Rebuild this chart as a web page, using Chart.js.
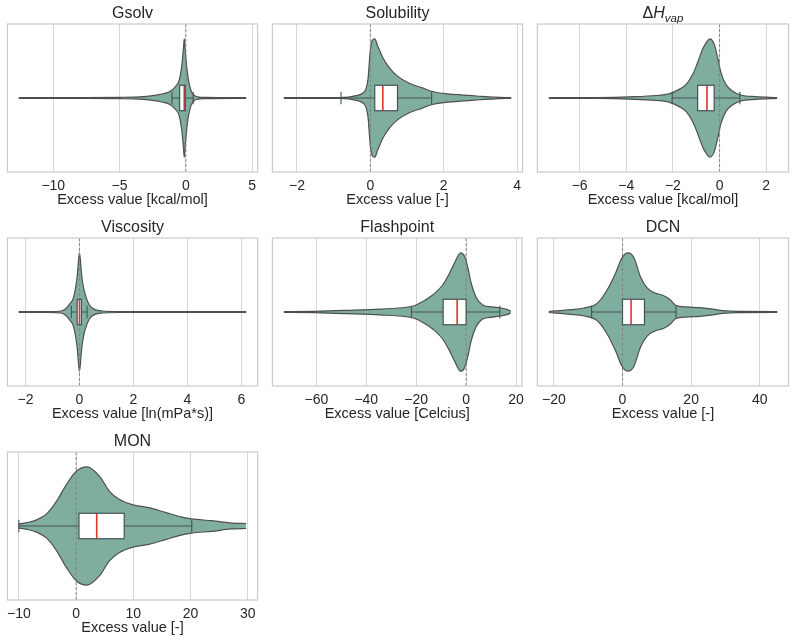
<!DOCTYPE html>
<html>
<head>
<meta charset="utf-8">
<script src="https://cdn.jsdelivr.net/npm/chart.js@4.4.1/dist/chart.umd.min.js"></script>
<style>
  html, body { margin: 0; background: #fff; }
  #grid { position: relative; width: 796px; height: 642px; overflow: hidden; }
  #grid canvas { position: absolute; }
</style>
</head>
<body>
<div id="grid"></div>
<script>
// ---- data (x = excess value, w = relative violin density, 1 = peak) ----
const GSOLV_X = [-12.6, -8, -5, -3.5, -2.5, -1.8, -1.2, -0.8, -0.5, -0.3, -0.18, -0.12, -0.05, 0.05, 0.2, 0.4, 0.6, 0.9, 1.5, 4.55];
const GSOLV_W = [0.005, 0.007, 0.012, 0.02, 0.04, 0.068, 0.11, 0.19, 0.3, 0.56, 0.85, 1.0, 0.81, 0.56, 0.3, 0.12, 0.05, 0.02, 0.01, 0.005];
const GSOLV_BOX = [-1.05, -0.47, -0.12, -0.05, 0.55]; // whisker low, q1, median, q3, whisker high
const GSOLV_TICKS = [-10, -5, 0, 5];
const GSOLV_RANGE = [-13.46, 5.41];

const SOL_X = [-2.36, -0.83, -0.38, -0.2, -0.11, -0.06, -0.03, 0.0, 0.05, 0.12, 0.2, 0.34, 0.52, 0.74, 1.06, 1.42, 1.69, 2.1, 2.54, 2.98, 3.4, 3.84];
const SOL_W = [0.005, 0.007, 0.04, 0.085, 0.17, 0.34, 0.59, 0.81, 0.97, 1.0, 0.88, 0.68, 0.51, 0.37, 0.25, 0.17, 0.11, 0.07, 0.05, 0.03, 0.014, 0.005];
const SOL_BOX = [-0.8, 0.12, 0.34, 0.74, 1.67];
const SOL_TICKS = [-2, 0, 2, 4];
const SOL_RANGE = [-2.67, 4.15];

const HVAP_X = [-7.32, -5.26, -3.84, -2.71, -2.14, -1.71, -1.43, -1.15, -0.94, -0.72, -0.51, -0.41, -0.23, -0.08, 0.06, 0.27, 0.55, 0.91, 1.55, 2.47];
const HVAP_W = [0.005, 0.008, 0.02, 0.042, 0.073, 0.15, 0.23, 0.4, 0.6, 0.83, 0.97, 1.0, 0.91, 0.68, 0.43, 0.23, 0.12, 0.05, 0.022, 0.005];
const HVAP_BOX = [-2.03, -0.94, -0.54, -0.23, 0.87];
const HVAP_TICKS = [-6, -4, -2, 0, 2];
const HVAP_RANGE = [-7.81, 2.96];

const VISC_X = [-2.25, -1.2, -0.69, -0.51, -0.35, -0.23, -0.15, -0.08, -0.04, 0, 0.04, 0.08, 0.16, 0.26, 0.38, 0.58, 0.83, 1.5, 6.18];
const VISC_W = [0.005, 0.007, 0.017, 0.056, 0.14, 0.23, 0.39, 0.62, 0.85, 1.0, 0.85, 0.62, 0.39, 0.23, 0.11, 0.04, 0.017, 0.008, 0.005];
const VISC_BOX = [-0.3, -0.085, 0.0, 0.07, 0.28];
const VISC_TICKS = [-2, 0, 2, 4, 6];
const VISC_RANGE = [-2.67, 6.6];

const FLASH_X = [-73, -61, -47.8, -34.5, -23.9, -20.5, -17.2, -13.3, -9.3, -6.6, -4.6, -2.2, -0.6, 0.7, 2.0, 4.0, 6.6, 10.6, 13.9, 16.6, 17.9];
const FLASH_W = [0.005, 0.012, 0.029, 0.05, 0.08, 0.11, 0.18, 0.29, 0.46, 0.66, 0.83, 1.0, 0.94, 0.75, 0.49, 0.25, 0.12, 0.085, 0.068, 0.04, 0.014];
const FLASH_BOX = [-21.9, -9.2, -3.6, 0.0, 13.5];
const FLASH_TICKS = [-60, -40, -20, 0, 20];
const FLASH_RANGE = [-77.6, 22.4];

const DCN_X = [-21.5, -15, -11.2, -7.3, -4.4, -2.0, -0.1, 1.6, 3.3, 5.2, 7.1, 9.5, 11.9, 13.8, 15.6, 18.7, 22.5, 26.3, 29.2, 35, 45.1];
const DCN_W = [0.008, 0.04, 0.068, 0.15, 0.38, 0.66, 0.92, 1.0, 0.92, 0.6, 0.41, 0.32, 0.28, 0.21, 0.11, 0.085, 0.073, 0.05, 0.022, 0.01, 0.008];
const DCN_BOX = [-9.0, 0.0, 2.5, 6.4, 15.6];
const DCN_TICKS = [-20, 0, 20, 40];
const DCN_RANGE = [-24.8, 48.4];

const MON_X = [-10.1, -8.6, -6.8, -5.1, -3.4, -1.7, 0.07, 1.9, 4.1, 5.8, 7.5, 9.8, 12.7, 15.6, 18.5, 20.2, 23.7, 27.1, 29.7];
const MON_W = [0.034, 0.056, 0.107, 0.21, 0.42, 0.7, 0.93, 1.0, 0.84, 0.59, 0.45, 0.36, 0.31, 0.23, 0.15, 0.12, 0.09, 0.05, 0.042];
const MON_BOX = [-10.0, 0.5, 3.6, 8.4, 20.2];
const MON_TICKS = [-10, 0, 10, 20, 30];
const MON_RANGE = [-12.0, 31.7];

// ---- styling ----
const FONT = '"Liberation Sans", Arial, sans-serif';
const TEXT = "#262626";
const GRID = "#d6d6d6";
const FRAME = "#cccccc";
const VIOLIN_FILL = "#7fae9f";
const VIOLIN_EDGE = "#4f4f4f";
const BOX_EDGE = "#46505a";
const MEDIAN = "#d8392a";
const VIOLIN_HALF = 0.4;   // in y-axis units (axis spans -0.5..0.5)
const BOX_HALF = 0.086;
const CAP_RADIUS = 6.3;

const PANELS = [
  { title: [{ text: "Gsolv" }], x: GSOLV_X, w: GSOLV_W, box: GSOLV_BOX, ticks: GSOLV_TICKS, range: GSOLV_RANGE, label: "Excess value [kcal/mol]" },
  { title: [{ text: "Solubility" }], x: SOL_X, w: SOL_W, box: SOL_BOX, ticks: SOL_TICKS, range: SOL_RANGE, label: "Excess value [-]" },
  { title: [{ text: "Δ" }, { text: "H", italic: true }, { text: "vap", italic: true, sub: true }], x: HVAP_X, w: HVAP_W, box: HVAP_BOX, ticks: HVAP_TICKS, range: HVAP_RANGE, label: "Excess value [kcal/mol]" },
  { title: [{ text: "Viscosity" }], x: VISC_X, w: VISC_W, box: VISC_BOX, ticks: VISC_TICKS, range: VISC_RANGE, label: "Excess value [ln(mPa*s)]" },
  { title: [{ text: "Flashpoint" }], x: FLASH_X, w: FLASH_W, box: FLASH_BOX, ticks: FLASH_TICKS, range: FLASH_RANGE, label: "Excess value [Celcius]" },
  { title: [{ text: "DCN" }], x: DCN_X, w: DCN_W, box: DCN_BOX, ticks: DCN_TICKS, range: DCN_RANGE, label: "Excess value [-]" },
  { title: [{ text: "MON" }], x: MON_X, w: MON_W, box: MON_BOX, ticks: MON_TICKS, range: MON_RANGE, label: "Excess value [-]" }
];

// title with optional italic / subscript pieces, centred over the plot area
const panelTitle = {
  id: "panelTitle",
  afterDraw(chart, args, opts) {
    const parts = opts.parts || [];
    const ctx = chart.ctx;
    const area = chart.chartArea;
    ctx.save();
    ctx.fillStyle = TEXT;
    ctx.textBaseline = "alphabetic";
    const fontOf = (p) => `${p.italic ? "italic " : ""}${p.sub ? 11.5 : 16}px ${FONT}`;
    let total = 0;
    const widths = parts.map((p) => {
      ctx.font = fontOf(p);
      const wd = ctx.measureText(p.text).width;
      total += wd;
      return wd;
    });
    let x = (area.left + area.right) / 2 - total / 2;
    const base = area.top - 5.7;
    parts.forEach((p, i) => {
      ctx.font = fontOf(p);
      ctx.fillText(p.text, x, base + (p.sub ? 3.6 : 0));
      x += widths[i];
    });
    ctx.restore();
  }
};

// light frame round the plot area
const frame = {
  id: "frame",
  afterDraw(chart) {
    const a = chart.chartArea;
    const ctx = chart.ctx;
    ctx.save();
    ctx.strokeStyle = FRAME;
    ctx.lineWidth = 1.25;
    ctx.strokeRect(a.left, a.top, a.right - a.left, a.bottom - a.top);
    ctx.restore();
  }
};

// white inter-quartile box with median, placed through the chart scales
const boxStats = {
  id: "boxStats",
  afterDatasetsDraw(chart, args, opts) {
    const b = opts.values;
    if (!b) return;
    const sx = chart.scales.x;
    const sy = chart.scales.y;
    const x1 = sx.getPixelForValue(b[1]);
    const xm = sx.getPixelForValue(b[2]);
    const x3 = sx.getPixelForValue(b[3]);
    const yt = sy.getPixelForValue(BOX_HALF);
    const yb = sy.getPixelForValue(-BOX_HALF);
    const ctx = chart.ctx;
    ctx.save();
    ctx.fillStyle = "#ffffff";
    ctx.fillRect(x1, yt, x3 - x1, yb - yt);
    ctx.strokeStyle = MEDIAN;
    ctx.lineWidth = 1.6;
    ctx.beginPath();
    ctx.moveTo(xm, yt);
    ctx.lineTo(xm, yb);
    ctx.stroke();
    ctx.strokeStyle = BOX_EDGE;
    ctx.lineWidth = 1.2;
    ctx.strokeRect(x1, yt, x3 - x1, yb - yt);
    ctx.restore();
  }
};

function fmtTick(v) {
  return String(v).replace("-", "\u2212");
}

function buildChart(panel, index) {
  const col = index % 3;
  const row = Math.floor(index / 3);
  const width = col === 2 ? 266 : 265;
  const height = 214;

  const canvas = document.createElement("canvas");
  canvas.width = width;
  canvas.height = height;
  canvas.style.left = `${col * 265}px`;
  canvas.style.top = `${row * 214}px`;
  canvas.style.width = `${width}px`;
  canvas.style.height = `${height}px`;
  document.getElementById("grid").appendChild(canvas);

  const upper = panel.x.map((x, i) => ({ x, y: panel.w[i] * VIOLIN_HALF }));
  const lower = panel.x.map((x, i) => ({ x, y: -panel.w[i] * VIOLIN_HALF }));
  const [wLo, , , , wHi] = panel.box;

  new Chart(canvas, {
    type: "line",
    data: {
      datasets: [
        {
          data: [{ x: wLo, y: 0 }, { x: wHi, y: 0 }],
          showLine: false,
          pointStyle: "line",
          pointRadius: CAP_RADIUS,
          pointRotation: 90,
          pointBorderColor: BOX_EDGE,
          pointBorderWidth: 1.1,
          order: 0
        },
        {
          data: [{ x: wLo, y: 0 }, { x: wHi, y: 0 }],
          borderColor: BOX_EDGE,
          borderWidth: 1.1,
          pointRadius: 0,
          order: 1
        },
        {
          data: [{ x: 0, y: -0.5 }, { x: 0, y: 0.5 }],
          borderColor: "#808080",
          borderWidth: 0.9,
          borderDash: [3, 2],
          pointRadius: 0,
          order: 2
        },
        {
          data: upper,
          borderColor: VIOLIN_EDGE,
          borderWidth: 1.2,
          backgroundColor: VIOLIN_FILL,
          fill: "+1",
          pointRadius: 0,
          cubicInterpolationMode: "monotone",
          order: 4
        },
        {
          data: lower,
          borderColor: VIOLIN_EDGE,
          borderWidth: 1.2,
          fill: false,
          pointRadius: 0,
          cubicInterpolationMode: "monotone",
          order: 3
        }
      ]
    },
    options: {
      responsive: false,
      animation: false,
      devicePixelRatio: 1,
      layout: { padding: { left: 6, right: width - 259, top: 24, bottom: 0 } },
      plugins: {
        legend: { display: false },
        tooltip: { enabled: false },
        panelTitle: { parts: panel.title },
        boxStats: { values: panel.box }
      },
      scales: {
        x: {
          type: "linear",
          min: panel.range[0],
          max: panel.range[1],
          afterBuildTicks: (scale) => {
            scale.ticks = panel.ticks.map((value) => ({ value }));
          },
          afterFit: (scale) => {
            scale.height = 42;
          },
          grid: { color: GRID, lineWidth: 1, drawTicks: false },
          border: { display: false },
          ticks: {
            padding: 6,
            color: TEXT,
            font: { family: FONT, size: 14 },
            callback: (v) => fmtTick(v)
          },
          title: {
            display: true,
            text: panel.label,
            color: TEXT,
            font: { family: FONT, size: 14.5 },
            padding: { top: 0, bottom: 5 }
          }
        },
        y: { type: "linear", min: -0.5, max: 0.5, display: false }
      }
    },
    plugins: [panelTitle, frame, boxStats]
  });
}

PANELS.forEach(buildChart);
</script>
</body>
</html>
